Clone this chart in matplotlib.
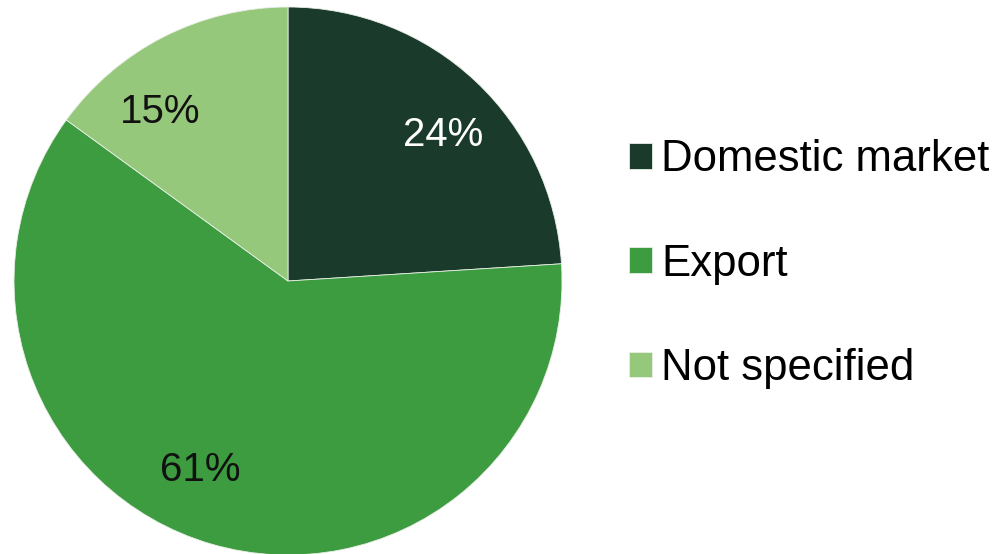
import matplotlib
matplotlib.use("Agg")
import matplotlib.pyplot as plt

plt.rcParams['font.family'] = ['Liberation Sans', 'DejaVu Sans']

labels = ['Domestic market', 'Export', 'Not specified']
shares = [24, 61, 15]
colors = ['#1a3a2b', '#3d9b40', '#96c87c']
pct_colors = ['white', '#111111', '#111111']
# label spots, in pie radius units
pct_pos = [(0.566, 0.533), (-0.321, -0.689), (-0.467, 0.617)]

fig = plt.figure(figsize=(10.04, 5.54), dpi=100)
cx, cy, r = 288, 554 - 281, 274
ax = fig.add_axes([(cx - r) / 1004, (cy - r) / 554, 2 * r / 1004, 2 * r / 554])

wedges, texts, autotexts = ax.pie(
    shares, colors=colors, startangle=90, counterclock=False,
    autopct='%d%%', radius=1,
    wedgeprops=dict(edgecolor='#e8efe6', linewidth=0.6),
    textprops=dict(fontsize=29))

for t, c, pos in zip(autotexts, pct_colors, pct_pos):
    t.set_color(c)
    t.set_position(pos)

ax.set_xlim(-1, 1)
ax.set_ylim(-1, 1)
ax.set_aspect('equal')
ax.axis('off')

fig.legend(wedges, labels, loc='center left', bbox_to_anchor=(629 / 1004, 0.523),
           frameon=False, fontsize=31.5, handlelength=0.52, handleheight=0.52,
           handletextpad=0.22, labelspacing=1.45, borderpad=0, borderaxespad=0)

fig.savefig('out.png', dpi=100)
